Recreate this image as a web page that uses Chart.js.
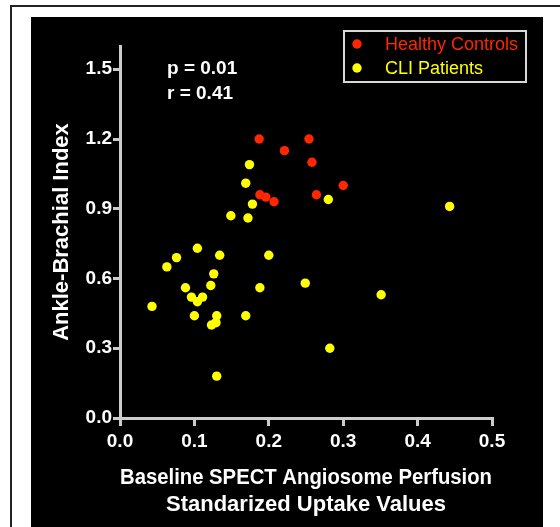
<!DOCTYPE html>
<html>
<head>
<meta charset="utf-8">
<script src="https://cdn.jsdelivr.net/npm/chart.js@4/dist/chart.umd.min.js"></script>
<style>
  html, body { margin: 0; padding: 0; background: #fff; }
  canvas { display: block; }
</style>
</head>
<body>
<canvas id="abiChart" width="560" height="527"></canvas>
<script>
// data
var healthyX = [0.187, 0.254, 0.221, 0.258, 0.300, 0.264, 0.188, 0.196, 0.207];
var healthyY = [1.20, 1.20, 1.15, 1.10, 1.00, 0.96, 0.96, 0.95, 0.93];

var cliX = [0.174, 0.169, 0.280, 0.178, 0.149, 0.172, 0.443, 0.104, 0.134, 0.200,
            0.126, 0.088, 0.122, 0.188, 0.249, 0.351, 0.096, 0.111, 0.104, 0.100,
            0.130, 0.123, 0.129, 0.169, 0.282, 0.130, 0.043, 0.063, 0.076];
var cliY = [1.09, 1.01, 0.94, 0.92, 0.87, 0.86, 0.91, 0.73, 0.70, 0.70,
            0.62, 0.56, 0.57, 0.56, 0.58, 0.53, 0.52, 0.52, 0.50, 0.44,
            0.44, 0.40, 0.41, 0.44, 0.30, 0.18, 0.48, 0.65, 0.69];

var xTicks = [0.0, 0.1, 0.2, 0.3, 0.4, 0.5];
var yTicks = [0.0, 0.3, 0.6, 0.9, 1.2, 1.5];

var seriesLabels = ['Healthy Controls', 'CLI Patients'];
var statLines = ['p = 0.01', 'r = 0.41'];

var RED = '#ff2600';
var YELLOW = '#ffff00';
var AXIS = '#cccccc';
var FONT = '"Liberation Sans", Arial, Helvetica, sans-serif';

function toPoints(xs, ys) {
    return xs.map(function (x, i) { return { x: x, y: ys[i] }; });
}

// white page, thin frame, black panel
var panelPlugin = {
    id: 'panel',
    beforeDraw: function (chart) {
        var ctx = chart.ctx;
        ctx.save();
        ctx.fillStyle = '#ffffff';
        ctx.fillRect(0, 0, chart.width, chart.height);
        ctx.strokeStyle = '#222222';
        ctx.lineWidth = 2;
        ctx.strokeRect(11, 6, chart.width + 20, chart.height + 20);
        ctx.fillStyle = '#000000';
        ctx.fillRect(31, 17, 512, chart.height);
        ctx.restore();
    }
};

// p / r text and the boxed legend
var notesPlugin = {
    id: 'notes',
    afterDraw: function (chart) {
        var ctx = chart.ctx;
        ctx.save();
        ctx.fillStyle = '#ffffff';
        ctx.font = 'bold 19px ' + FONT;
        ctx.textAlign = 'left';
        ctx.textBaseline = 'middle';
        ctx.fillText(statLines[0], 167, 69);
        ctx.fillText(statLines[1], 167, 94);

        // legend box
        ctx.strokeStyle = '#d8d8d8';
        ctx.lineWidth = 2;
        ctx.strokeRect(344, 31, 182, 51);
        ctx.font = '18px ' + FONT;
        chart.data.datasets.forEach(function (ds, i) {
            var y = 44 + i * 24;
            ctx.fillStyle = ds.backgroundColor;
            ctx.beginPath();
            ctx.arc(357, y, 4.7, 0, Math.PI * 2);
            ctx.fill();
            ctx.fillText(ds.label, 385, y + 1);
        });
        ctx.restore();
    }
};

var ctx = document.getElementById('abiChart').getContext('2d');
new Chart(ctx, {
    type: 'scatter',
    data: {
        datasets: [{
            label: seriesLabels[0],
            data: toPoints(healthyX, healthyY),
            backgroundColor: RED,
            borderWidth: 0,
            pointRadius: 4.7,
            pointHoverRadius: 4.7
        }, {
            label: seriesLabels[1],
            data: toPoints(cliX, cliY),
            backgroundColor: YELLOW,
            borderWidth: 0,
            pointRadius: 4.7,
            pointHoverRadius: 4.7
        }]
    },
    options: {
        responsive: false,
        animation: false,
        devicePixelRatio: 1,
        layout: { padding: { left: 0, right: 68, top: 46, bottom: 0 } },
        plugins: {
            legend: { display: false },
            tooltip: { enabled: false }
        },
        scales: {
            x: {
                type: 'linear',
                min: 0,
                max: 0.5,
                afterBuildTicks: function (scale) {
                    scale.ticks = xTicks.map(function (v) { return { value: v }; });
                },
                afterFit: function (scale) { scale.height = 109; },
                border: { display: true, color: AXIS, width: 3 },
                grid: { drawOnChartArea: false, drawTicks: true, tickLength: 8, color: AXIS, lineWidth: 3 },
                ticks: {
                    color: '#ffffff',
                    padding: 4,
                    maxRotation: 0,
                    font: { family: FONT, size: 19, weight: 'bold' },
                    callback: function (v) { return Number(v).toFixed(1); }
                },
                title: {
                    display: true,
                    text: ['Baseline SPECT Angiosome Perfusion', 'Standarized Uptake Values'],
                    color: '#ffffff',
                    font: { family: FONT, size: 22, weight: 'bold', lineHeight: 1.24 },
                    padding: { top: 0, bottom: 8 }
                }
            },
            y: {
                type: 'linear',
                min: 0,
                max: 1.6,
                afterBuildTicks: function (scale) {
                    scale.ticks = yTicks.map(function (v) { return { value: v }; });
                },
                afterFit: function (scale) { scale.width = 120; },
                border: { display: true, color: AXIS, width: 3 },
                grid: { drawOnChartArea: false, drawTicks: true, tickLength: 7, color: AXIS, lineWidth: 3 },
                ticks: {
                    color: '#ffffff',
                    padding: 1,
                    font: { family: FONT, size: 19, weight: 'bold' },
                    callback: function (v) { return Number(v).toFixed(1); }
                },
                title: {
                    display: true,
                    text: 'Ankle-Brachial Index',
                    color: '#ffffff',
                    font: { family: FONT, size: 22, weight: 'bold', lineHeight: 1.24 },
                    padding: { top: 48, bottom: 0 }
                }
            }
        }
    },
    plugins: [panelPlugin, notesPlugin]
});
</script>
</body>
</html>
